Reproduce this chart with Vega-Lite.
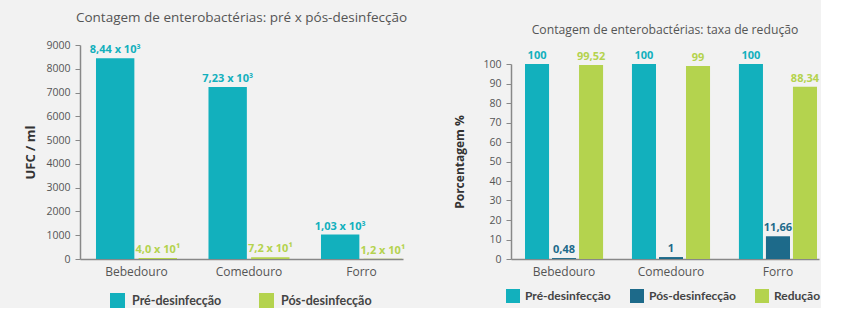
{
  "$schema": "https://vega.github.io/schema/vega-lite/v6.json",
  "background": "#f2f2f2",
  "padding": {"left": 24, "top": 10, "right": 0, "bottom": 0},
  "autosize": {"type": "pad"},
  "spacing": 45,
  "align": "none",
  "config": {
    "view": {"stroke": null},
    "font": "Open Sans",
    "title": {"fontSize": 13.5, "fontWeight": "normal", "color": "#555555", "font": "Open Sans", "anchor": "middle"},
    "axis": {
      "domainColor": "#888888",
      "domainWidth": 1.5,
      "tickColor": "#888888",
      "labelColor": "#555555",
      "labelFont": "Open Sans",
      "labelFontSize": 10.5,
      "titleFont": "Open Sans",
      "titleFontWeight": "bold",
      "titleColor": "#333333",
      "titleFontSize": 13,
      "grid": false
    }
  },
  "resolve": {"scale": {"color": "independent", "xOffset": "independent", "x": "independent", "y": "independent"}},
  "hconcat": [
    {
      "width": 323,
      "height": 214,
      "title": {"text": "Contagem de enterobactérias: pré x pós-desinfecção", "offset": 16},
      "data": {
        "values": [
          {"local": "Bebedouro", "serie": "Pré-desinfecção", "valor": 8440, "rotulo": "8,44 x 10³"},
          {"local": "Bebedouro", "serie": "Pós-desinfecção", "valor": 40, "rotulo": "4,0 x 10¹"},
          {"local": "Comedouro", "serie": "Pré-desinfecção", "valor": 7230, "rotulo": "7,23 x 10³"},
          {"local": "Comedouro", "serie": "Pós-desinfecção", "valor": 72, "rotulo": "7,2 x 10¹"},
          {"local": "Forro", "serie": "Pré-desinfecção", "valor": 1030, "rotulo": "1,03 x 10³"},
          {"local": "Forro", "serie": "Pós-desinfecção", "valor": 12, "rotulo": "1,2 x 10¹"}
        ]
      },
      "encoding": {
        "x": {
          "field": "local", "type": "nominal",
          "sort": ["Bebedouro", "Comedouro", "Forro"],
          "scale": {"paddingInner": 0.28, "paddingOuter": 0.0756, "align": 0.94},
          "axis": {"title": null, "labelAngle": 0, "ticks": false, "labelFontSize": 12, "labelPadding": 7}
        },
        "xOffset": {
          "field": "serie", "type": "nominal",
          "sort": ["Pré-desinfecção", "Pós-desinfecção"],
          "scale": {"paddingInner": 0.1, "paddingOuter": 0}
        },
        "y": {
          "field": "valor", "type": "quantitative",
          "scale": {"domain": [0, 9000], "nice": false},
          "axis": {"title": "UFC / ml", "format": "d", "values": [0, 1000, 2000, 3000, 4000, 5000, 6000, 7000, 8000, 9000], "tickSize": 5, "labelPadding": 5, "titlePadding": 8}
        },
        "color": {
          "field": "serie", "type": "nominal",
          "scale": {"domain": ["Pré-desinfecção", "Pós-desinfecção"], "range": ["#12b0bd", "#b4d34e"]},
          "legend": {
            "title": null, "orient": "none", "legendX": 30, "legendY": 248,
            "direction": "horizontal", "symbolType": "square", "symbolSize": 225,
            "symbolStrokeWidth": 0, "labelFont": "Lato", "labelFontSize": 12.5,
            "labelFontWeight": "bold", "labelColor": "#444444", "columnPadding": 37, "labelOffset": 7
          }
        }
      },
      "layer": [
        {"mark": {"type": "bar"}},
        {
          "mark": {"type": "text", "dy": -3, "baseline": "bottom", "fontWeight": "bold", "fontSize": 11, "font": "Open Sans"},
          "encoding": {"text": {"field": "rotulo"}}
        }
      ]
    },
    {
      "width": 308,
      "height": 214,
      "title": {"text": "Contagem de enterobactérias: taxa de redução", "offset": 9, "fontSize": 12.2},
      "data": {
        "values": [
          {"local": "Bebedouro", "serie": "Pré-desinfecção", "valor": 100, "rotulo": "100"},
          {"local": "Bebedouro", "serie": "Pós-desinfecção", "valor": 0.48, "rotulo": "0,48"},
          {"local": "Bebedouro", "serie": "Redução", "valor": 99.52, "rotulo": "99,52"},
          {"local": "Comedouro", "serie": "Pré-desinfecção", "valor": 100, "rotulo": "100"},
          {"local": "Comedouro", "serie": "Pós-desinfecção", "valor": 1, "rotulo": "1"},
          {"local": "Comedouro", "serie": "Redução", "valor": 99, "rotulo": "99"},
          {"local": "Forro", "serie": "Pré-desinfecção", "valor": 100, "rotulo": "100"},
          {"local": "Forro", "serie": "Pós-desinfecção", "valor": 11.66, "rotulo": "11,66"},
          {"local": "Forro", "serie": "Redução", "valor": 88.34, "rotulo": "88,34"}
        ]
      },
      "encoding": {
        "x": {
          "field": "local", "type": "nominal",
          "sort": ["Bebedouro", "Comedouro", "Forro"],
          "scale": {"paddingInner": 0.27, "paddingOuter": 0.0748, "align": 0.875},
          "axis": {"title": null, "labelAngle": 0, "ticks": false, "labelFontSize": 12, "labelPadding": 7}
        },
        "xOffset": {
          "field": "serie", "type": "nominal",
          "sort": ["Pré-desinfecção", "Pós-desinfecção", "Redução"],
          "scale": {"paddingInner": 0.11, "paddingOuter": 0}
        },
        "y": {
          "field": "valor", "type": "quantitative",
          "scale": {"domain": [0, 100], "nice": false, "range": [214, 19]},
          "axis": {"title": "Porcentagem %", "values": [0, 10, 20, 30, 40, 50, 60, 70, 80, 90, 100], "tickSize": 5, "labelPadding": 5, "titlePadding": 16, "titleFontSize": 12}
        },
        "color": {
          "field": "serie", "type": "nominal",
          "scale": {"domain": ["Pré-desinfecção", "Pós-desinfecção", "Redução"], "range": ["#12b0bd", "#1d6a8a", "#b4d34e"]},
          "legend": {
            "title": null, "orient": "none", "legendX": -5, "legendY": 244,
            "direction": "horizontal", "symbolType": "square", "symbolSize": 196,
            "symbolStrokeWidth": 0, "labelFont": "Lato", "labelFontSize": 12,
            "labelFontWeight": "bold", "labelColor": "#444444", "columnPadding": 19, "labelOffset": 5
          }
        }
      },
      "layer": [
        {"mark": {"type": "bar"}},
        {
          "mark": {"type": "text", "dy": -3, "baseline": "bottom", "fontWeight": "bold", "fontSize": 11, "font": "Open Sans"},
          "encoding": {"text": {"field": "rotulo"}}
        }
      ]
    }
  ]
}
